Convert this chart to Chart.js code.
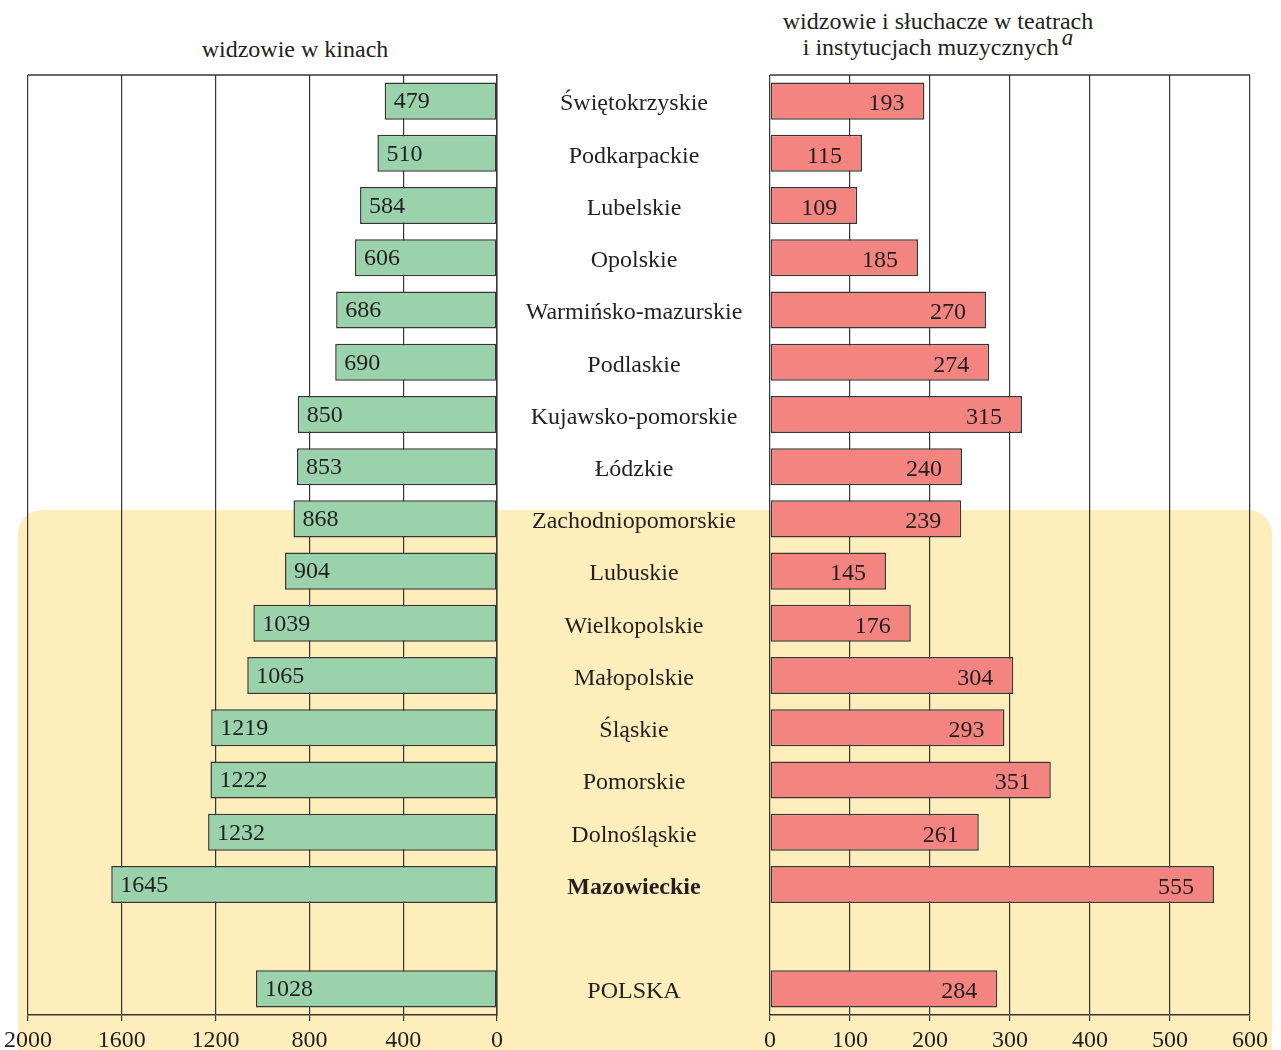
<!DOCTYPE html>
<html lang="pl">
<head>
<meta charset="utf-8">
<title>Widzowie w kinach oraz w teatrach i instytucjach muzycznych</title>
<script src="https://cdn.jsdelivr.net/npm/chart.js@4"></script>
<style>
  html, body { margin: 0; padding: 0; background: #ffffff; }
  body { width: 1281px; height: 1050px; position: relative; overflow: hidden;
         font-family: 'Liberation Serif', 'DejaVu Serif', serif; color: #231f20; }
  .band { position: absolute; left: 18px; top: 510px; width: 1254px; height: 600px;
          background: #feeebc; border-radius: 24px; }
  canvas { position: absolute; top: 0; }
  #left { left: 0; }
  #right { left: 740px; }
  .title { position: absolute; font-size: 24px; line-height: 26px; text-align: center; white-space: nowrap; }
  .title sup { font-style: italic; font-size: 23px; vertical-align: 0; position: relative; top: -10px; margin-left: 3px; }
</style>
</head>
<body>
<div class="band"></div>
<div class="title" style="left:145px; top:36px; width:300px;">widzowie w kinach</div>
<div class="title" style="left:738px; top:8px; width:400px;">widzowie i słuchacze w teatrach<br>i instytucjach muzycznych<sup>a</sup></div>
<canvas id="left" width="770" height="1050"></canvas>
<canvas id="right" width="541" height="1050"></canvas>
<script>
// Voivodeships (an empty slot separates the national total)
const regions = ['Świętokrzyskie', 'Podkarpackie', 'Lubelskie', 'Opolskie', 'Warmińsko-mazurskie',
  'Podlaskie', 'Kujawsko-pomorskie', 'Łódzkie', 'Zachodniopomorskie', 'Lubuskie', 'Wielkopolskie',
  'Małopolskie', 'Śląskie', 'Pomorskie', 'Dolnośląskie', 'Mazowieckie', '', 'POLSKA'];
// Cinema audiences
const cinema = [479, 510, 584, 606, 686, 690, 850, 853, 868, 904, 1039, 1065, 1219, 1222, 1232, 1645, null, 1028];
// Audiences in theatres and music institutions
const theatre = [193, 115, 109, 185, 270, 274, 315, 240, 239, 145, 176, 304, 293, 351, 261, 555, null, 284];
// Axis ticks
const cinemaTicks = [0, 400, 800, 1200, 1600, 2000];
const theatreTicks = [0, 100, 200, 300, 400, 500, 600];
const boldRegion = 'Mazowieckie';

const FONT = "'Liberation Serif', 'DejaVu Serif', serif";
const INK = '#231f20';
const LINE = '#363636';
Chart.defaults.font.family = FONT;
Chart.defaults.color = INK;

// Top edge of the plot frame
const frameTop = {
  id: 'frameTop',
  afterDraw(chart) {
    const { ctx, chartArea: a } = chart;
    ctx.save();
    ctx.strokeStyle = LINE;
    ctx.lineWidth = 1.5;
    ctx.beginPath();
    ctx.moveTo(a.left, a.top);
    ctx.lineTo(a.right, a.top);
    ctx.stroke();
    ctx.restore();
  }
};

// Value labels inside the bars
function valueLabels(side) {
  return {
    id: 'valueLabels',
    afterDatasetsDraw(chart) {
      const { ctx } = chart;
      const meta = chart.getDatasetMeta(0);
      const values = chart.data.datasets[0].data;
      ctx.save();
      ctx.font = '24px ' + FONT;
      ctx.fillStyle = INK;
      ctx.textBaseline = 'middle';
      meta.data.forEach((bar, i) => {
        const v = values[i];
        if (v === null || v === undefined) return;
        if (side === 'left') {
          ctx.textAlign = 'left';
          ctx.fillText(String(v), bar.x + 9, bar.y + 1);
        } else {
          ctx.textAlign = 'right';
          ctx.fillText(String(v), bar.x - 20, bar.y + 3);
        }
      });
      ctx.restore();
    }
  };
}

// Region names in the middle column
const regionNames = {
  id: 'regionNames',
  afterDraw(chart) {
    const { ctx } = chart;
    const y = chart.scales.y;
    ctx.save();
    ctx.fillStyle = INK;
    ctx.textAlign = 'center';
    ctx.textBaseline = 'middle';
    regions.forEach((name, i) => {
      if (!name) return;
      ctx.font = (name === boldRegion ? 'bold ' : '') + '24px ' + FONT;
      ctx.fillText(name, 634, y.getPixelForValue(i) + 3);
    });
    ctx.restore();
  }
};

function xAxis(ticks, reverse) {
  return {
    type: 'linear',
    position: 'bottom',
    min: ticks[0],
    max: ticks[ticks.length - 1],
    reverse: reverse,
    afterBuildTicks(scale) { scale.ticks = ticks.map(v => ({ value: v })); },
    afterFit(scale) { scale.height = 35; },
    grid: { display: true, color: LINE, lineWidth: 1.2, drawTicks: true, tickLength: 6, tickColor: LINE },
    border: { display: true, color: LINE, width: 1.5 },
    ticks: {
      font: { size: 24 }, color: INK, padding: 5, maxRotation: 0, autoSkip: false,
      callback: v => String(v)
    }
  };
}

function barDataset(values, fill) {
  return {
    data: values,
    backgroundColor: fill,
    borderColor: LINE,
    borderWidth: 1.5,
    borderSkipped: false,
    barPercentage: 0.71,
    categoryPercentage: 1.0
  };
}

const common = {
  indexAxis: 'y',
  responsive: false,
  maintainAspectRatio: false,
  animation: false,
  devicePixelRatio: 1,
  plugins: { legend: { display: false }, tooltip: { enabled: false }, title: { display: false } }
};

new Chart(document.getElementById('left'), {
  type: 'bar',
  data: { labels: regions, datasets: [barDataset(cinema, '#9ad2ac')] },
  options: Object.assign({}, common, {
    layout: { padding: { left: 28, top: 75, right: 0, bottom: 0 } },
    scales: {
      x: xAxis(cinemaTicks, true),
      y: {
        type: 'category',
        position: 'right',
        afterFit(scale) { scale.width = 273; },
        grid: { display: false },
        border: { display: true, color: LINE, width: 1.5 },
        ticks: { display: false }
      }
    }
  }),
  plugins: [frameTop, valueLabels('left'), regionNames]
});

new Chart(document.getElementById('right'), {
  type: 'bar',
  data: { labels: regions, datasets: [barDataset(theatre, '#f3847f')] },
  options: Object.assign({}, common, {
    layout: { padding: { left: 30, top: 75, right: 31, bottom: 0 } },
    scales: {
      x: xAxis(theatreTicks, false),
      y: { type: 'category', display: false }
    }
  }),
  plugins: [frameTop, valueLabels('right')]
});
</script>
</body>
</html>
